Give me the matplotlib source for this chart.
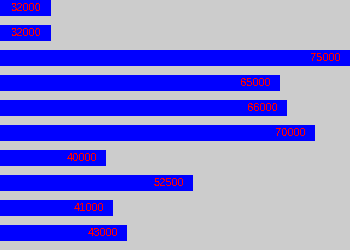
import matplotlib
matplotlib.use("Agg")
import matplotlib.pyplot as plt

values = [32000, 32000, 75000, 65000, 66000, 70000, 40000, 52500, 41000, 43000]
labels = ["32000", "32000", "75000", "65000", "66000", "70000", "40000", "52500", "41000", "43000"]

fig = plt.figure(figsize=(3.5, 2.5), dpi=100)
fig.patch.set_facecolor("#cccccc")
ax = fig.add_axes([0, 0, 1, 1])
ax.set_facecolor("#cccccc")

xmin = 24700
positions = list(range(len(values)))
ax.barh(positions, [v - xmin for v in values], left=xmin, height=0.64,
        color="#0000ff", edgecolor="none", antialiased=False)
for p, v, t in zip(positions, values, labels):
    ax.text(v - 1300, p, t, color="#ff0000", ha="right", va="center",
            fontsize=8, family="Liberation Sans", antialiased=False)

ax.set_xlim(xmin, 75000)
ax.set_ylim(9.68, -0.32)
ax.axis("off")
fig.savefig("out.png", dpi=100, facecolor=fig.get_facecolor())
